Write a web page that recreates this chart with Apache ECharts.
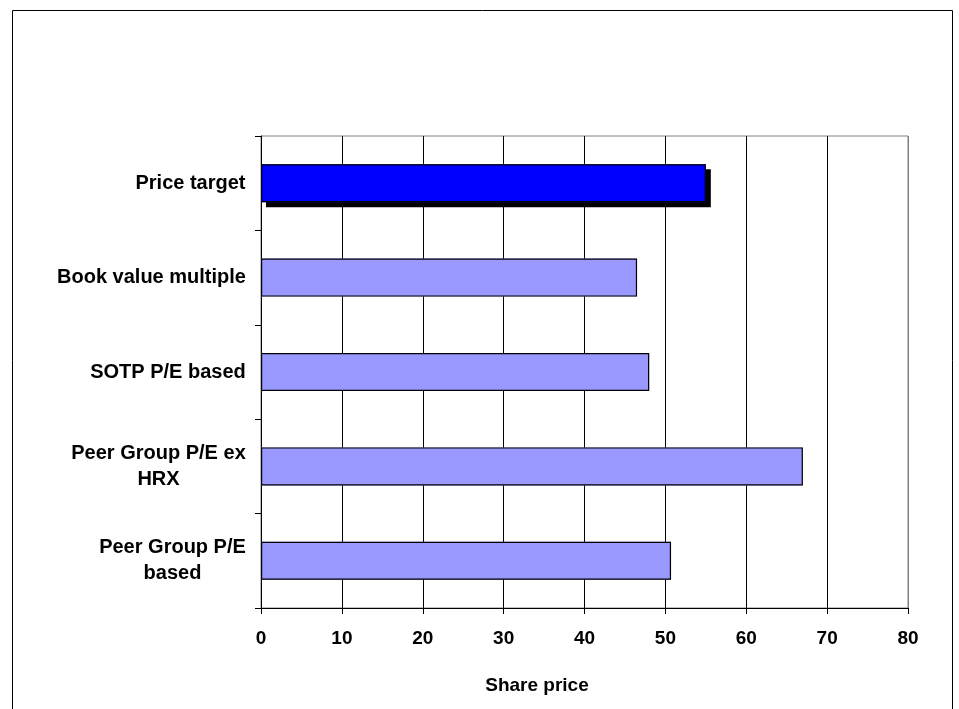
<!DOCTYPE html>
<html>
<head>
<meta charset="utf-8">
<style>
    html, body {margin: 0; padding: 0; background: #fff;}
    #main {width: 959px; height: 709px;}
</style>
<script src="https://cdn.jsdelivr.net/npm/echarts@6/dist/echarts.min.js"></script>
</head>
<body>
<div id="main"></div>
<script>
    // categories listed top to bottom
    const categories = ['Price target', 'Book value multiple', 'SOTP P/E based', 'Peer Group P/E ex\nHRX', 'Peer Group P/E\nbased'];
    const sharePrices = [55, 46.5, 48, 67, 50.7];
    const xTicks = [0, 10, 20, 30, 40, 50, 60, 70, 80];

    const labelFont = 'bold 20px "Liberation Sans", Arial, sans-serif';

    // width of the longest line, so that two-line labels are centred on each other
    const ctx = document.createElement('canvas').getContext('2d');
    ctx.font = labelFont;
    const lineWidth = (s) => Math.max(...s.split('\n').map(t => ctx.measureText(t).width));

    // one rich style per category label
    const richStyles = {};
    categories.forEach((c, i) => {
        richStyles['m' + i] = {
            color: '#000', fontSize: 20, fontWeight: 'bold', lineHeight: 26,
            width: Math.ceil(lineWidth(c)), align: 'center'
        };
    });

    const chart = echarts.init(document.getElementById('main'));
    chart.setOption({
        animation: false,
        backgroundColor: '#fff',
        textStyle: {fontFamily: '"Liberation Sans", Arial, sans-serif'},
        graphic: [{
            type: 'rect',
            shape: {x: 12.5, y: 10.5, width: 940, height: 720},
            style: {fill: 'none', stroke: '#000', lineWidth: 1}
        }],
        grid: {
            left: 261, right: 51, top: 136, bottom: 101,
            show: true, borderColor: '#808080', borderWidth: 1
        },
        xAxis: {
            type: 'value',
            min: xTicks[0],
            max: xTicks[xTicks.length - 1],
            interval: 10,
            name: 'Share price',
            nameLocation: 'middle',
            nameGap: 68,
            nameTextStyle: {
                color: '#000', fontSize: 19, fontWeight: 'bold',
                padding: [0, 95, 0, 0]
            },
            axisLine: {show: true, lineStyle: {color: '#000', width: 1}},
            axisTick: {show: true, length: 6, lineStyle: {color: '#000'}},
            axisLabel: {color: '#000', fontSize: 19, fontWeight: 'bold', margin: 21},
            splitLine: {
                show: true,
                lineStyle: {
                    color: ['#000', '#000', '#000', '#000', '#000', '#000', '#000', '#000', '#808080'],
                    width: 1
                }
            }
        },
        yAxis: {
            type: 'category',
            inverse: true,
            data: categories,
            axisLine: {show: true, lineStyle: {color: '#000', width: 1}},
            axisTick: {show: true, length: 6, lineStyle: {color: '#000'}},
            splitLine: {show: false},
            axisLabel: {
                margin: 15,
                formatter: (v) => {
                    const key = 'm' + categories.indexOf(v);
                    return v.split('\n').map(t => '{' + key + '|' + t + '}').join('\n');
                },
                rich: richStyles
            }
        },
        series: [
            {
                // fills; the price target bar carries the drop shadow
                type: 'bar',
                barWidth: 38,
                z: 2,
                data: sharePrices.map((v, i) => i === 0 ? {
                    value: v,
                    itemStyle: {
                        color: '#0000ff',
                        shadowColor: '#000',
                        shadowBlur: 0,
                        shadowOffsetX: 5,
                        shadowOffsetY: 5
                    }
                } : v),
                itemStyle: {color: '#9999ff', borderWidth: 0}
            },
            {
                // black outlines drawn on top, without shadow
                type: 'bar',
                barWidth: 38,
                barGap: '-100%',
                z: 3,
                silent: true,
                data: sharePrices,
                itemStyle: {color: 'rgba(0,0,0,0)', borderColor: '#000', borderWidth: 1.2}
            }
        ]
    });
</script>
</body>
</html>
